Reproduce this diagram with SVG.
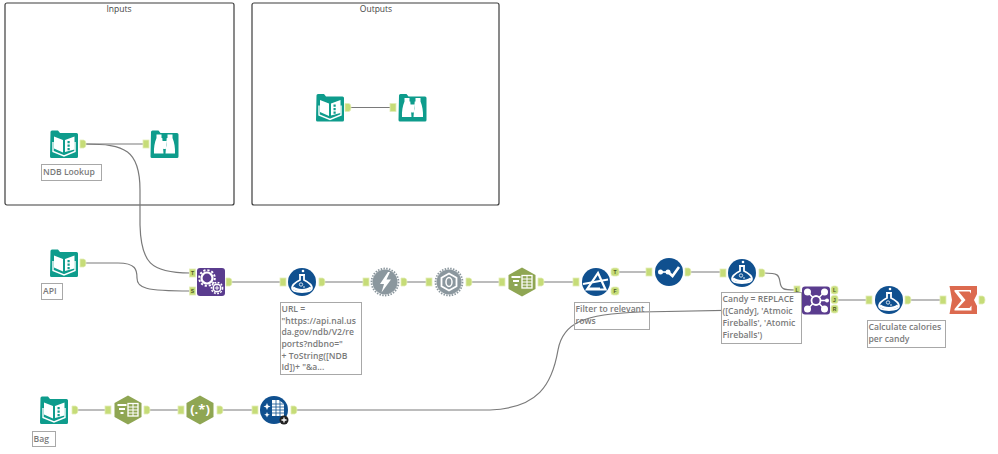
<svg xmlns="http://www.w3.org/2000/svg" width="998" height="454" viewBox="0 0 998 454">
<style>
.box{fill:#fff;stroke:#3c3c3c;stroke-width:1.2}
.title{font:8.5px "Open Sans",sans-serif;fill:#444;text-anchor:middle}
.wire{fill:none;stroke:#7a7a7a;stroke-width:1.2}
.note rect{fill:#fff;stroke:#a8a8a8;stroke-width:1}
.note.clear rect{fill:none}
.note text{font:8.6px "Open Sans",sans-serif;fill:#7a7a7a;font-weight:600}
.port{fill:#c6dc78;stroke:#e3edb8;stroke-width:.8}
.pl{font:bold 5px "Liberation Sans",sans-serif;fill:#4a5722;text-anchor:middle}
.w{fill:#fff}
.ws{fill:none;stroke:#fff}
</style>
<defs>
<path id="p-out" class="port" d="M-3-4h3.500a2.500 4 0 0 1 0 8h-3.500z"/>
<rect id="p-in" class="port" x="-3" y="-4" width="6" height="8"/>
<path id="tab" fill="#0e9c8c" d="M-13.500-12a1.500 1.500 0 0 1 1.500-1.500h6l2 2.500h16.500a1.500 1.500 0 0 1 1.500 1.500v22a1.500 1.500 0 0 1-1.500 1.500h-25a1.500 1.500 0 0 1-1.500-1.500z"/>
<g id="book">
<use href="#tab"/>
<path class="w" d="M-10-7.500l9 3.500v12.500l-9-4zM1-4l9.500-3.500v13l-9.500 2.500z"/>
<path class="ws" stroke-width="1.400" d="M-11-2v9.500l11 4.500 11-4.500v-9.500"/>
<path fill="#0e9c8c" d="M3.500-3h2.200v2.200h-2.200zM3.500 .5h2.200v2.200h-2.200zM3.500 4h2.200v2.200h-2.200z"/>
</g>
<g id="binoc">
<use href="#tab"/>
<path class="w" d="M-8-9.500h5v3.500h.8l1.200 15.500h-9.500c-.3-6 .6-11 2.500-15.500zM8-9.500h-5v3.500h-.8l-1.200 15.500h9.500c.3-6-.6-11-2.500-15.500zM-2-3h4v4l-.8 4h-2.400l-.8-4z"/>
</g>
<g id="macro">
<rect x="-14" y="-14" width="28" height="28" rx="3" fill="#5a3c8e"/>
<circle cx="-4" cy="-4" r="5.500" fill="none" stroke="#fff" stroke-width="2.200"/>
<circle cx="-4" cy="-4" r="7.800" fill="none" stroke="#fff" stroke-width="2" stroke-dasharray="2.200 1.900"/>
<circle cx="6" cy="6" r="3.800" fill="#5a3c8e" stroke="#fff" stroke-width="1.500"/>
<circle cx="6" cy="6" r="5.600" fill="none" stroke="#fff" stroke-width="1.500" stroke-dasharray="1.800 1.500"/>
<path class="ws" d="M6 3.500v5M3.500 6h5"/>
</g>
<g id="formula">
<circle r="14" fill="#10508f"/>
<path fill="#10508f" stroke="#fff" stroke-width="1.800" d="M-2-7v5C-7 .5-10 3-10 6c0 2.500 3 4 10 4s10-1.500 10-4c0-3-3-5.500-8-8v-5z"/>
<path class="ws" stroke-width="2.400" d="M-9 5.500c4 3.500 14 3.500 18 0"/>
<path class="w" d="M-3-8h6v1.500h-6z"/>
<circle cx="-1" cy="2.500" r="1.700" fill="none" stroke="#fff" stroke-width=".8"/>
<circle cx="2" cy="5" r=".8" class="w"/>
<circle cx="1" cy="-11" r="1.300" class="w"/>
</g>
<g id="bolt">
<circle r="12.500" fill="#8b979e"/>
<circle r="13.500" fill="none" stroke="#8b979e" stroke-width="1.800" stroke-dasharray="1.500 1.300"/>
<path class="w" d="M3-10L-5 2h4l-2.500 8.500L6-2.500H1.500L5-10z"/>
</g>
<g id="gear">
<circle r="12.500" fill="#8b979e"/>
<circle r="13.500" fill="none" stroke="#8b979e" stroke-width="1.800" stroke-dasharray="1.500 1.300"/>
<path class="ws" stroke-width="1.800" d="M0-8.500l7.500 4.200v8.600L0 8.500l-7.500-4.200v-8.600z"/>
<ellipse rx="3" ry="4.500" fill="none" stroke="#fff" stroke-width="1.500"/>
</g>
<path id="hex" fill="#8fa653" d="M0-14.500L13.500-7v14L0 14.500-13.500 7v-14z"/>
<g id="select">
<use href="#hex"/>
<path class="w" d="M-10.500-6h9v2h-9zM-9-2h6v2h-6zM-7.500 2h3v2h-3z"/>
<rect x="0" y="-6.500" width="10" height="12.500" fill="none" stroke="#fff" stroke-width="1.300"/>
<path class="ws" d="M0-3h10M0 0h10M0 3h10M5-6.500v12.500"/>
</g>
<g id="filter">
<circle r="14" fill="#10508f"/>
<path class="ws" stroke-width="2.200" d="M-9 7.500H9.500L2-9z"/>
<path class="ws" stroke-width="2" d="M-13 2L12-2.500"/>
<path fill="#fff" d="M-8 5.500H4v2H-8z"/>
</g>
<g id="check">
<circle r="14" fill="#10508f"/>
<path class="ws" stroke-width="1.600" d="M-8.500 0H-1"/>
<path class="ws" stroke-width="2.600" d="M-1 0L3.500 4L10-5"/>
<circle cx="-8.500" cy="0" r="2.500" class="w"/>
<circle cx="-1" cy="0" r="2.500" class="w"/>
</g>
<g id="join">
<rect x="-14" y="-14" width="28" height="28" rx="3" fill="#5a3c8e"/>
<circle r="4.500" fill="none" stroke="#fff" stroke-width="1.800"/>
<path class="ws" stroke-width="1.500" d="M-8-8l5 5M8-8l-5 5M-8 8l5-5M8 8l-5-5M4.500 0H11"/>
<circle cx="-8.500" cy="-8.500" r="3.500" class="w"/>
<circle cx="8.500" cy="-8.500" r="3.500" class="w"/>
<circle cx="-8.500" cy="8.500" r="3.500" class="w"/>
<circle cx="8.500" cy="8.500" r="3.500" class="w"/>
<circle cx="11" cy="0" r="2" class="w"/>
</g>
<g id="sum">
<path fill="#dc6a4f" d="M-13.500-14H14V-6L11 0 14 6V14H-13.500L-11 0z"/>
<path class="w" d="M-8.500-10H8V-6.500L6.500-8.500H-4.500L2.500 0-5 8H6.500L8.500 5.500V10.500H-8.500V9L-1.500 .5-8.500-8.500z"/>
</g>
<g id="regex">
<use href="#hex"/>
<text y="3.500" text-anchor="middle" font-family="Open Sans, sans-serif" font-weight="700" font-size="13" fill="#fff">(.*)</text>
</g>
<g id="dyn">
<circle r="14" fill="#10508f"/>
<path class="w" d="M-2-10H5l5 4v12H-2z"/>
<path fill="none" stroke="#10508f" stroke-width=".8" d="M-2-6h12M-2-3h12M-2 0h12M-2 3h12M2-10v16M6-10v16"/>
<path class="w" d="M-7-7l1 2.500 2.500 1-2.500 1-1 2.500-1-2.500-2.500-1 2.500-1zM-7 2l.8 2 2 .8-2 .8-.8 2-.8-2-2-.8 2-.8z"/>
<circle cx="10" cy="10" r="4.500" fill="#222"/>
<path class="ws" stroke-width="1.300" d="M7.500 10h5M10 7.500v5"/>
</g>
</defs>
<g id="containers">
<g id="inputs"><rect class="box" x="5" y="3" width="229" height="202" rx="2"/><text class="title" x="119" y="12">Inputs</text></g>
<g id="outputs"><rect class="box" x="252" y="3" width="247" height="202" rx="2"/><text class="title" x="376" y="12">Outputs</text></g>
</g>
<g id="connectors">
<path class="wire" d="M85 144H143"/>
<path class="wire" d="M85 144C125 144 140 150 140 190V225C141 262 150 273 190 273"/>
<path class="wire" d="M85 263H118C136 263 137 270 137 278C137 288 145 291 190 291"/>
<path class="wire" d="M350 107.500H391"/>
<path class="wire" d="M231 282H281M324 282H364M406 282H427M471 282H500M543 282H574M617 272H647M690 272H721"/>
<path class="wire" d="M764 273C778 273 779 275 780 282C781 289 783 290 795 290"/>
<path class="wire" d="M836 300H867M910 300H941"/>
<path class="wire" d="M77 410H106M149 410H179M222 410H253"/>
<path class="wire" d="M296 410H490C538 408 552 385 558 350C563 322 585 314 640 312L795 309"/>
</g>
<g id="node-ndb"><use href="#book" x="64" y="144"/><use href="#p-out" x="83" y="144"/></g>
<g id="node-browse1"><use href="#binoc" x="164.500" y="144"/><use href="#p-in" x="146" y="144"/></g>
<g id="node-out-input"><use href="#book" x="330" y="107.500"/><use href="#p-out" x="348" y="107.500"/></g>
<g id="node-out-browse"><use href="#binoc" x="412.500" y="107.500"/><use href="#p-in" x="393" y="107.500"/></g>
<g id="node-api"><use href="#book" x="64" y="263"/><use href="#p-out" x="83" y="263"/></g>
<g id="node-macro"><use href="#macro" x="211" y="282"/><use href="#p-in" x="192.500" y="273"/><use href="#p-in" x="192.500" y="291"/><text class="pl" x="192.500" y="275">T</text><text class="pl" x="192.500" y="293">S</text><use href="#p-out" x="229" y="282"/></g>
<g id="node-formula-url"><use href="#formula" x="302" y="282"/><use href="#p-in" x="283" y="282"/><use href="#p-out" x="322" y="282"/></g>
<g id="node-download"><use href="#bolt" x="385" y="282"/><use href="#p-in" x="366" y="282"/><use href="#p-out" x="404" y="282"/></g>
<g id="node-json"><use href="#gear" x="449" y="282"/><use href="#p-in" x="429" y="282"/><use href="#p-out" x="469" y="282"/></g>
<g id="node-select"><use href="#select" x="522" y="282"/><use href="#p-in" x="502" y="282"/><use href="#p-out" x="541" y="282"/></g>
<g id="node-filter"><use href="#filter" x="596" y="282"/><use href="#p-in" x="576" y="282"/><rect class="port" x="611" y="268" width="8" height="8" rx="2.500"/><rect class="port" x="611" y="287" width="8" height="8" rx="2.500"/><text class="pl" x="615" y="274">T</text><text class="pl" x="615" y="293">F</text></g>
<g id="node-check"><use href="#check" x="669" y="272"/><use href="#p-in" x="649" y="272"/><use href="#p-out" x="688" y="272"/></g>
<g id="node-formula-candy"><use href="#formula" x="742" y="273"/><use href="#p-in" x="723" y="273"/><use href="#p-out" x="762" y="273"/></g>
<g id="node-join"><use href="#join" x="816" y="300.500"/><use href="#p-in" x="797" y="290"/><use href="#p-in" x="797" y="310"/><text class="pl" x="797" y="292">L</text><text class="pl" x="797" y="312">R</text><rect class="port" x="831" y="286" width="7" height="8" rx="2.500"/><rect class="port" x="831" y="295.500" width="7" height="8" rx="2.500"/><rect class="port" x="831" y="305" width="7" height="8" rx="2.500"/><text class="pl" x="834.500" y="292">L</text><text class="pl" x="834.500" y="301.500">J</text><text class="pl" x="834.500" y="311">R</text></g>
<g id="node-formula-cal"><use href="#formula" x="889" y="300"/><use href="#p-in" x="869" y="300"/><use href="#p-out" x="908" y="300"/></g>
<g id="node-summarize"><use href="#sum" x="963" y="300"/><use href="#p-in" x="943" y="300"/><use href="#p-out" x="982" y="300"/></g>
<g id="node-bag"><use href="#book" x="54" y="410"/><use href="#p-out" x="75" y="410"/></g>
<g id="node-select2"><use href="#select" x="128" y="410"/><use href="#p-in" x="108" y="410"/><use href="#p-out" x="147" y="410"/></g>
<g id="node-regex"><use href="#regex" x="200" y="410"/><use href="#p-in" x="181" y="410"/><use href="#p-out" x="220" y="410"/></g>
<g id="node-dynamic"><use href="#dyn" x="274" y="410"/><use href="#p-in" x="255" y="410"/><use href="#p-out" x="294" y="410"/></g>
<g id="notes">
<g class="note"><rect x="41.500" y="164.500" width="60" height="16"/><text x="43" y="174.500">NDB Lookup</text></g>
<g class="note"><rect x="41.500" y="283.500" width="21" height="16"/><text x="43" y="294">API</text></g>
<g class="note"><rect x="280.500" y="302.500" width="81" height="72"/><text x="281.500" y="312">URL =</text><text x="281.500" y="323.500">"https://api.nal.us</text><text x="281.500" y="335">da.gov/ndb/V2/re</text><text x="281.500" y="347">ports?ndbno="</text><text x="281.500" y="358.500">+ ToString([NDB</text><text x="281.500" y="370">Id])+ "&amp;a...</text></g>
<g class="note clear"><rect x="574.500" y="302.500" width="75" height="27"/><text x="575.500" y="311.500">Filter to relevant</text><text x="575.500" y="323.500">rows</text></g>
<g class="note"><rect x="721.500" y="292.500" width="80" height="51"/><text x="722.500" y="302">Candy = REPLACE</text><text x="722.500" y="314">([Candy], 'Atmoic</text><text x="722.500" y="326">Fireballs', 'Atomic</text><text x="722.500" y="338">Fireballs')</text></g>
<g class="note"><rect x="867.500" y="320.500" width="78" height="27"/><text x="868.500" y="330">Calculate calories</text><text x="868.500" y="342">per candy</text></g>
<g class="note"><rect x="32.500" y="431.500" width="23" height="15"/><text x="33.500" y="441.500">Bag</text></g>
</g>
</svg>
